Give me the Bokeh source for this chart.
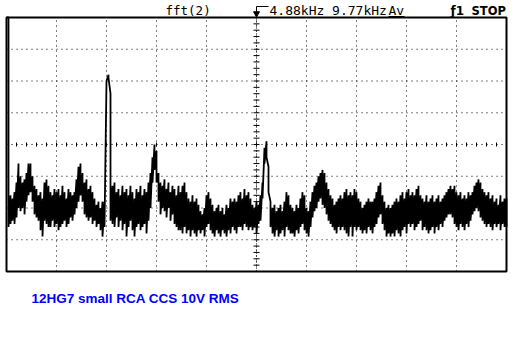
import numpy as np
from bokeh.plotting import figure
from bokeh.models import Range1d
from bokeh.core.properties import value
from bokeh.embed import file_html
from bokeh.resources import INLINE

# ---- data ----
SPAN_KHZ = 9.77          # full horizontal span
CENTER_KHZ = 4.88        # centre frequency
DB_TOP, DB_BOTTOM = 0, -80   # 10 dB / div, 8 divisions

# envelope of the averaged FFT trace, one pair per bin (dB): upper and lower excursion
trace_hi = [
    0, 0, -56, -57, -55, -52, -46, -50, -52, -51,
    -49, -46, -46, -50, -53, -54, -56, -55, -57, -52,
    -51, -53, -55, -56, -54, -55, -54, -56, -53, -55,
    -57, -54, -55, -56, -55, -51, -47, -46, -49, -52,
    -51, -54, -53, -55, -57, -59, -58, -60, -58, -58,
    -20, -18, -24, -53, -52, -55, -54, -56, -53, -55,
    -54, -56, -53, -55, -57, -54, -55, -53, -56, -54,
    -55, -52, -49, -44, -40, -42, -49, -52, -53, -51,
    -54, -52, -55, -53, -54, -56, -53, -55, -53, -52,
    -55, -57, -58, -56, -58, -57, -59, -61, -62, -60,
    -56, -55, -57, -59, -61, -60, -59, -61, -60, -62,
    -59, -60, -57, -58, -57, -58, -56, -55, -57, -54,
    -56, -55, -57, -59, -60, -58, -59, -56, -52, -41,
    -39, -47, -58, -60, -59, -61, -60, -59, -61, -58,
    -55, -56, -59, -60, -61, -59, -60, -57, -55, -56,
    -60, -61, -58, -55, -53, -52, -50, -49, -48, -49,
    -52, -54, -56, -57, -59, -58, -57, -56, -57, -55,
    -54, -56, -55, -56, -54, -55, -57, -58, -60, -59,
    -58, -57, -58, -58, -57, -55, -53, -52, -56, -58,
    -60, -59, -60, -59, -58, -57, -58, -56, -55, -57,
    -55, -54, -56, -55, -56, -54, -53, -56, -57, -58,
    -56, -58, -57, -56, -58, -57, -56, -58, -57, -56,
    -55, -54, -53, -54, -53, -55, -56, -55, -57, -56,
    -57, -55, -56, -55, -53, -52, -51, -52, -54, -55,
    -56, -55, -57, -56, -58, -57, -59, -56, -58, -57,
    -57,
]
trace_lo = [
    0, -66, -65, -64, -65, -63, -60, -61, -60, -62,
    -58, -56, -55, -58, -62, -63, -64, -67, -69, -64,
    -65, -66, -66, -64, -66, -65, -67, -66, -65, -64,
    -66, -65, -63, -64, -62, -60, -58, -56, -58, -62,
    -63, -64, -63, -65, -64, -66, -65, -67, -69, -66,
    -20, -19, -64, -65, -66, -63, -66, -64, -67, -65,
    -69, -66, -64, -67, -69, -66, -65, -67, -66, -65,
    -68, -64, -60, -52, -48, -52, -58, -62, -60, -61,
    -63, -60, -64, -62, -65, -66, -67, -67, -68, -66,
    -68, -67, -69, -67, -68, -69, -67, -68, -67, -69,
    -66, -65, -67, -68, -69, -67, -68, -69, -67, -68,
    -69, -67, -68, -66, -67, -68, -66, -66, -67, -65,
    -66, -67, -66, -67, -66, -68, -65, -64, -57, -46,
    -44, -55, -66, -68, -69, -67, -69, -68, -67, -69,
    -66, -67, -68, -68, -69, -67, -68, -66, -65, -67,
    -68, -69, -66, -63, -61, -60, -58, -57, -59, -60,
    -62, -64, -65, -66, -67, -68, -66, -67, -66, -67,
    -68, -69, -66, -69, -66, -67, -66, -67, -68, -67,
    -68, -66, -67, -68, -66, -65, -63, -62, -65, -67,
    -69, -68, -69, -68, -69, -67, -68, -69, -67, -66,
    -68, -65, -66, -65, -67, -66, -65, -64, -67, -66,
    -67, -68, -67, -66, -68, -66, -67, -65, -66, -64,
    -63, -62, -62, -63, -65, -66, -67, -65, -66, -67,
    -65, -66, -64, -62, -61, -60, -61, -63, -64, -65,
    -66, -65, -66, -67, -65, -66, -65, -67, -65, -66,
    -66,
]

header_mode = "fft(2)"
header_freq = "4.88kHz 9.77kHz"
header_avg = "Av"
header_trig = "\u01921"
header_state = "STOP"
caption = "12HG7 small RCA CCS 10V RMS"

# ---- figure: the whole canvas is the frame, the scope screen is drawn inside ----
W, H = 522, 360
L, R, T, B = 6, 16, 17, 89            # margins of the scope screen, px
px_x = SPAN_KHZ / (W - L - R)          # kHz per pixel
px_y = (DB_TOP - DB_BOTTOM) / (H - T - B)  # dB per pixel

p = figure(width=W, height=H, output_backend="svg", toolbar_location=None,
           x_axis_type=None, y_axis_type=None,
           x_range=Range1d(-L * px_x, SPAN_KHZ + R * px_x),
           y_range=Range1d(DB_BOTTOM - B * px_y, DB_TOP + T * px_y),
           min_border=0)
p.outline_line_color = None
p.background_fill_color = "white"
p.border_fill_color = "white"
p.xgrid.visible = False
p.ygrid.visible = False

xdiv = SPAN_KHZ / 10
ydiv = 10
xc = 5 * xdiv
yc = (DB_TOP + DB_BOTTOM) / 2

# dotted graticule
gx = np.arange(1, 10) * xdiv
gy = DB_TOP - np.arange(1, 8) * ydiv
p.segment(x0=gx, y0=DB_BOTTOM, x1=gx, y1=DB_TOP, line_color="black", line_width=1, line_dash="1 4")
p.segment(x0=0, y0=gy, x1=SPAN_KHZ, y1=gy, line_color="black", line_width=1, line_dash="1 4")

# centre-line minor ticks
tx = np.arange(0, SPAN_KHZ + 1e-9, xdiv / 5)
p.segment(x0=tx, y0=yc - 2 * px_y, x1=tx, y1=yc + 2 * px_y, line_color="black", line_width=1)
ty = np.arange(DB_BOTTOM, DB_TOP + 1e-9, ydiv / 5)
p.segment(x0=xc - 3 * px_x, y0=ty, x1=xc + 3 * px_x, y1=ty, line_color="black", line_width=1)
p.segment(x0=[xc], y0=[DB_BOTTOM], x1=[xc], y1=[DB_TOP], line_color="black",
          line_width=1, line_dash="1 2")

# trace
freq = np.linspace(0, SPAN_KHZ, len(trace_hi))
xs = np.repeat(freq, 2)
ys = np.column_stack([trace_hi, trace_lo]).ravel()
p.line(xs, ys, line_color="black", line_width=1.8)

# screen border
p.quad(left=[0], right=[SPAN_KHZ], bottom=[DB_BOTTOM], top=[DB_TOP],
       fill_color=None, line_color="black", line_width=2)

# header texts
def px2x(xp):
    return (xp - L) * px_x

def px2y(yp):
    return DB_TOP - (yp - T) * px_y

def txt(x_px, y_px, text, font, size, style="normal", color="black"):
    p.text(x=[px2x(x_px)], y=[px2y(y_px)], text=[text], text_font=value(font),
           text_font_size=size, text_font_style=style, text_color=color,
           text_baseline="middle", text_align="left")

txt(165, 10, header_mode, "DejaVu Sans Mono", "12.5px")
txt(269, 10, header_freq, "DejaVu Sans Mono", "13px")
txt(388, 10, header_avg, "DejaVu Sans Mono", "13px")
p.segment(x0=[px2x(388)], y0=[px2y(16)], x1=[px2x(404)], y1=[px2y(16)], line_color="black", line_width=1)
txt(450, 10, header_trig, "DejaVu Sans", "12px", "bold")
txt(471, 10, header_state, "DejaVu Sans", "11.5px", "bold")

# trigger-position marker
p.segment(x0=[px2x(256)], y0=[px2y(6)], x1=[px2x(256)], y1=[px2y(13)], line_color="black", line_width=1)
p.segment(x0=[px2x(256)], y0=[px2y(6)], x1=[px2x(268)], y1=[px2y(6)], line_color="black", line_width=1)
p.scatter(x=[px2x(256)], y=[px2y(13)], marker="inverted_triangle", size=6,
          fill_color="black", line_color="black")

# caption
txt(31, 298, caption, "Liberation Sans", "13.5px", "bold", "#0000ff")

open("out.html", "w").write(file_html(p, INLINE))
